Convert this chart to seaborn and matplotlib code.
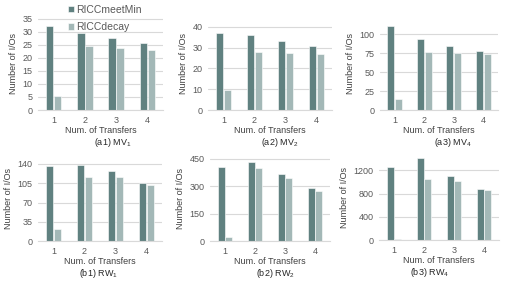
import pandas as pd
import matplotlib.pyplot as plt
import seaborn as sns

# values
transfers = [1, 2, 3, 4]
methods = ["RICCmeetMin", "RICCdecay"]

mv1_meet = [32.3, 29.3, 27.7, 25.8]
mv1_decay = [5.5, 24.3, 23.8, 22.8]
mv2_meet = [37.0, 36.0, 33.3, 30.9]
mv2_decay = [9.8, 27.8, 27.4, 26.9]
mv4_meet = [111, 93.4, 84.6, 78.4]
mv4_decay = [15, 76.7, 75.8, 74.4]
rw1_meet = [135, 137.6, 126.8, 105]
rw1_decay = [22, 116.5, 116, 101.5]
rw2_meet = [405, 432, 365, 288]
rw2_decay = [24, 401, 343, 272]
rw4_meet = [1251, 1411, 1097, 874]
rw4_decay = [23, 1057, 1017, 863]

captions = ["(a1) MV$_1$", "(a2) MV$_2$", "(a3) MV$_4$",
            "(b1) RW$_1$", "(b2) RW$_2$", "(b3) RW$_4$"]
yticks = [[0, 5, 10, 15, 20, 25, 30, 35], [0, 10, 20, 30, 40], [0, 25, 50, 75, 100],
          [0, 35, 70, 105, 140], [0, 150, 300, 450], [0, 400, 800, 1200]]
ymax = [35.2, 44.2, 121.5, 155.7, 470, 1462]

panels = [(mv1_meet, mv1_decay), (mv2_meet, mv2_decay), (mv4_meet, mv4_decay),
          (rw1_meet, rw1_decay), (rw2_meet, rw2_decay), (rw4_meet, rw4_decay)]

sns.set_style("white")
plt.rcParams['font.family'] = ['Liberation Sans', 'DejaVu Sans']
plt.rcParams['mathtext.default'] = 'regular'

W, H = 507, 286
fig = plt.figure(figsize=(W / 100, H / 100), dpi=100)

# pixel boxes (left, right, top, bottom)
boxes = [(38, 163, 18, 110), (208, 332, 18, 110), (380, 498, 18, 110),
         (38, 162, 155, 241.3), (210, 330, 155, 241.3), (379, 499, 155, 240.3)]
cap_x = [113, 280, 453, 98, 275, 430]

pal = ["#5a8685", "#9fbbba"]
grey = "#595959"

for i, (meet, decay) in enumerate(panels):
    l, r, t, b = boxes[i]
    ax = fig.add_axes([l / W, 1 - b / H, (r - l) / W, (b - t) / H])
    df = pd.DataFrame({
        "Transfers": transfers * 2,
        "IOs": meet + decay,
        "Method": [methods[0]] * 4 + [methods[1]] * 4,
    })
    sns.barplot(data=df, x="Transfers", y="IOs", hue="Method", palette=pal,
                width=0.52, gap=0.08, ax=ax, legend=(i == 0),
                edgecolor="white", linewidth=0.4)
    ax.set_ylim(0, ymax[i])
    ax.set_yticks(yticks[i])
    ax.yaxis.grid(True, color="#d9d9d9", linewidth=0.8)
    ax.set_axisbelow(True)
    for s in ["top", "right", "left"]:
        ax.spines[s].set_visible(False)
    ax.spines["bottom"].set_color("#d9d9d9")
    ax.tick_params(length=0, labelsize=6.5, colors=grey, pad=4)
    ax.set_ylabel("Number of I/Os", fontsize=6.5, color="#404040", labelpad=3)
    ax.set_xlabel("Num. of Transfers", fontsize=6.5, color="#404040", labelpad=1)
    fig.text(cap_x[i] / W, 1 - (b + 32.5) / H, captions[i], fontsize=6.5,
             color="#262626", ha="center", va="center")
    if i == 0:
        leg = ax.legend(loc="upper left", bbox_to_anchor=(0.2, 1.2), frameon=False,
                        fontsize=7.5, handlelength=0.6, handleheight=0.6,
                        handletextpad=0.2, labelspacing=0.7, borderpad=0)
        for txt in leg.get_texts():
            txt.set_color(grey)

fig.savefig("out.png", dpi=100)
